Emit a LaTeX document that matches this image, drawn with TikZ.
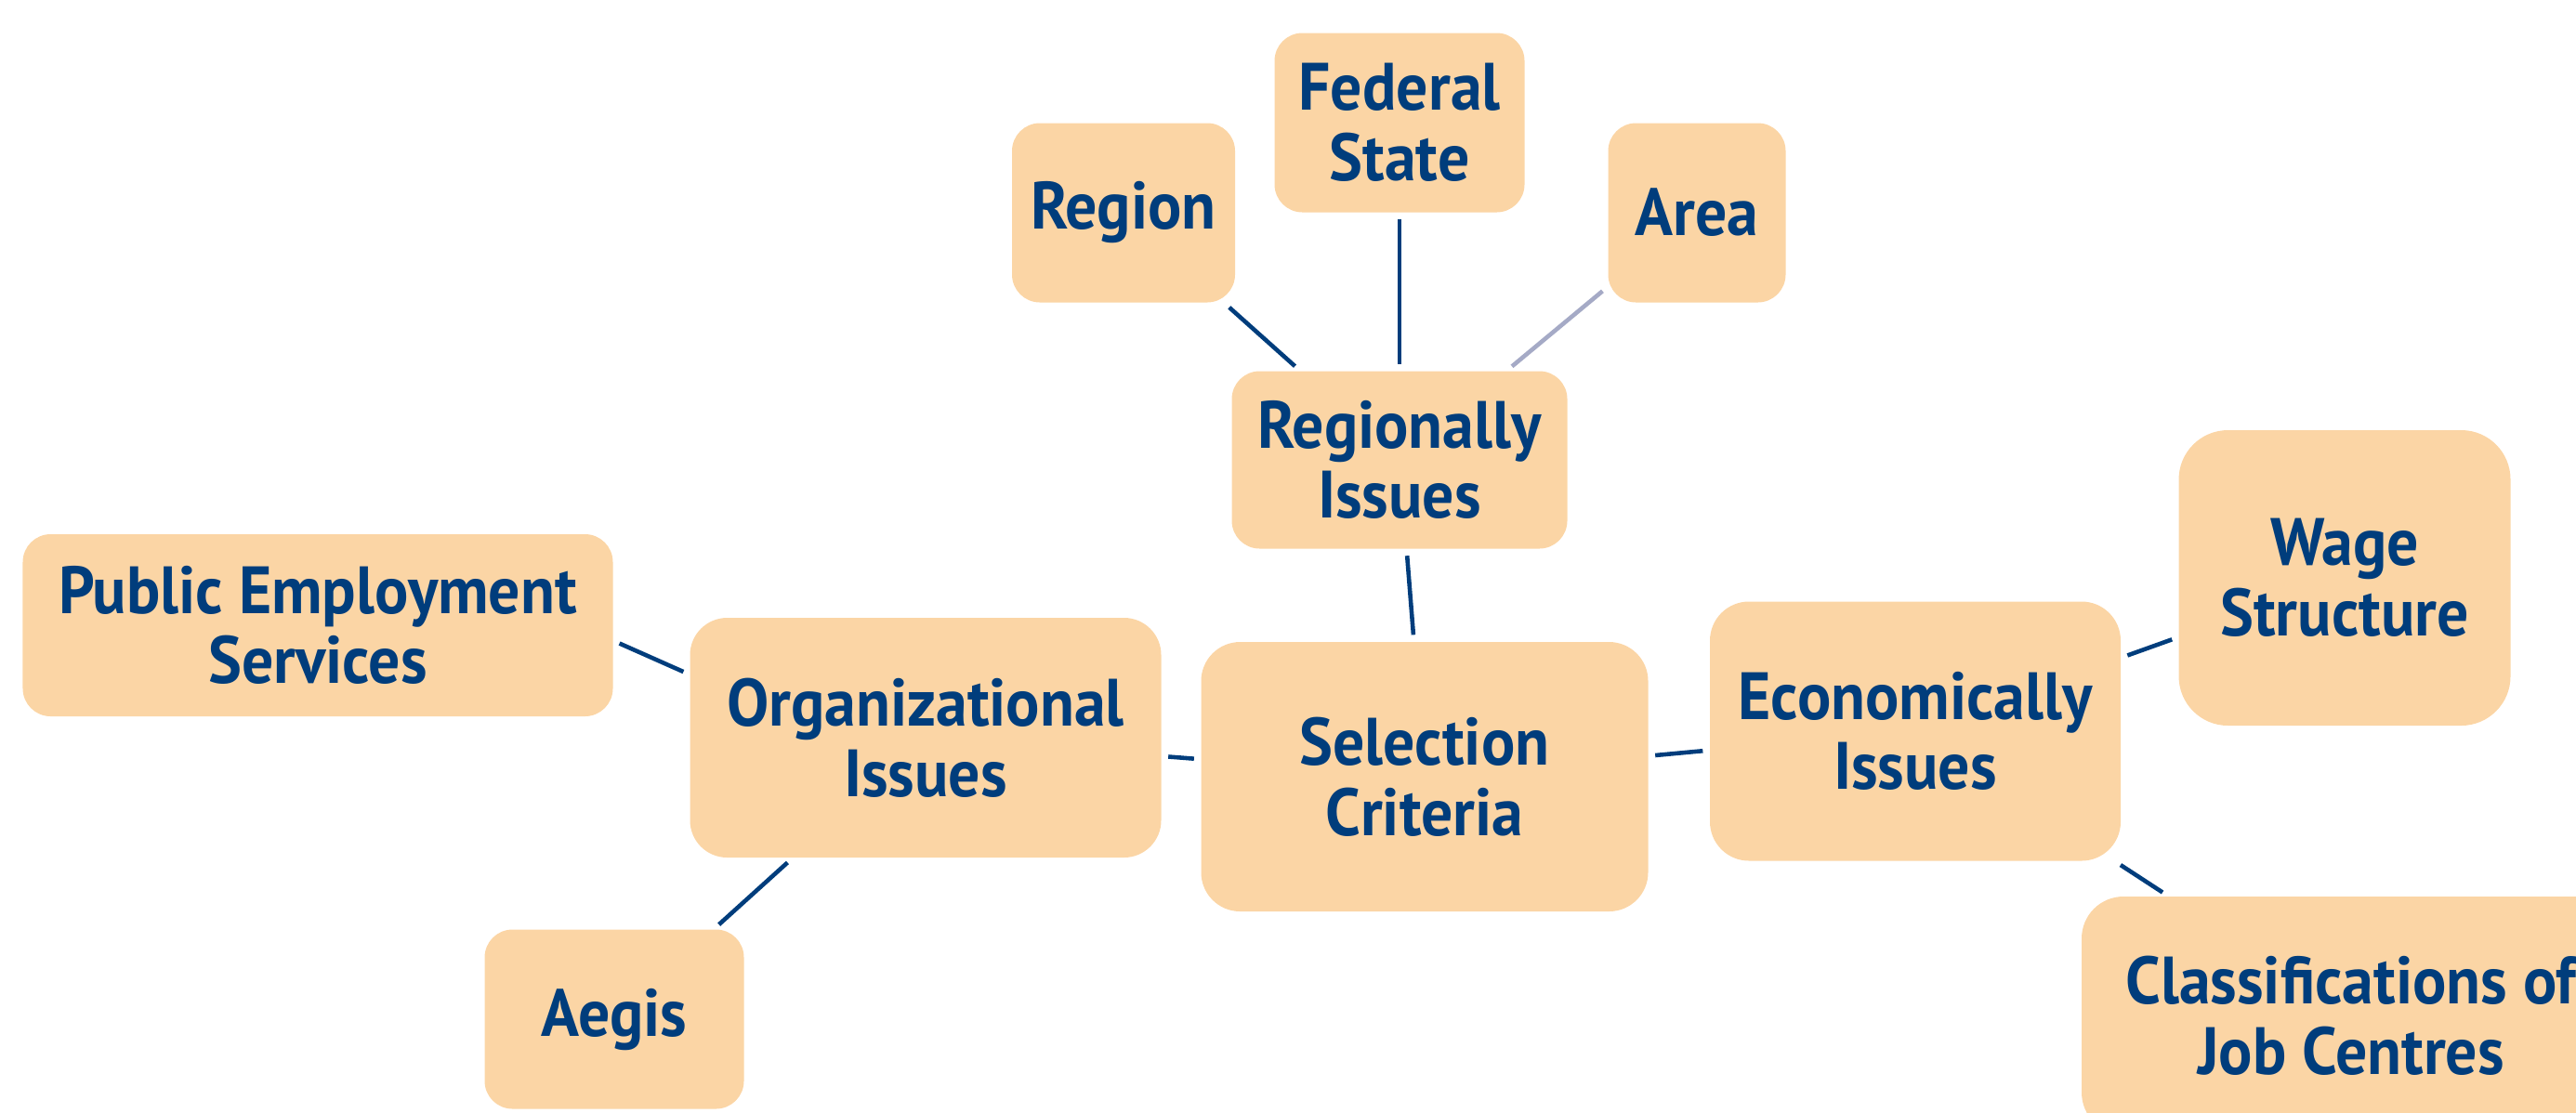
\documentclass[tikz,border=0pt]{standalone}
\usepackage{fontspec}
\setmainfont{PT Sans}[FakeStretch=0.94]
\usetikzlibrary{shapes}
\usetikzlibrary{calc}

\definecolor{boxfill}{HTML}{FBD5A5}
\definecolor{navy}{HTML}{003D7C}
\definecolor{paleline}{HTML}{A5AAC6}

\begin{document}
\begin{tikzpicture}
    \def\gap{0.07cm}
    \tikzstyle{topic}=[rectangle, rounded corners=0.3cm, fill=boxfill, text=navy, align=center, inner sep=0pt, font=\fontsize{20.5}{21.5}\selectfont\bfseries]
    \tikzstyle{link}=[draw=navy, line width=1.3pt, shorten <=\gap, shorten >=\gap]

    \useasboundingbox (0,0) rectangle (27.72,-11.97);
    \clip (0,0) rectangle (27.72,-11.97);

    % nodes
    \node (sel) [topic, minimum width=4.81cm, minimum height=2.90cm, rounded corners=0.42cm] at (15.33,-8.36) {Selection\\Criteria};
    \node (reg) [topic, minimum width=3.61cm, minimum height=1.91cm] at (15.06,-4.95) {Regionally\\Issues};
    \node (org) [topic, minimum width=5.07cm, minimum height=2.58cm, rounded corners=0.4cm] at (9.96,-7.94) {Organizational\\Issues};
    \node (eco) [topic, minimum width=4.42cm, minimum height=2.79cm, rounded corners=0.42cm] at (20.61,-7.87) {Economically\\Issues};

    \node (fed) [topic, minimum width=2.69cm, minimum height=1.93cm] at (15.06,-1.32) {Federal\\State};
    \node (region) [topic, minimum width=2.40cm, minimum height=1.93cm] at (12.09,-2.29) {Region};
    \node (area) [topic, minimum width=1.91cm, minimum height=1.93cm] at (18.26,-2.29) {Area};

    \node (pes) [topic, minimum width=6.35cm, minimum height=1.96cm] at (3.42,-6.73) {Public Employment\\Services};
    \node (aegis) [topic, minimum width=2.79cm, minimum height=1.93cm] at (6.61,-10.97) {Aegis};

    \node (wage) [topic, minimum width=3.57cm, minimum height=3.18cm, rounded corners=0.53cm] at (25.23,-6.22) {Wage\\Structure};
    \node (job) [topic, minimum width=5.80cm, minimum height=2.56cm, rounded corners=0.45cm] at (25.30,-10.93) {Classifications of\\Job Centres};

    % links
    \path[link] (region) -- (reg);
    \path[link] (fed) -- (reg);
    \path[link, draw=paleline] (area) -- (reg);
    \path[link] (reg) -- (sel);
    \path[link] (pes.-3) -- (org.165);
    \path[link] (org) -- (sel);
    \path[link] (org) -- (aegis);
    \path[link] (sel) -- (eco);
    \path[link] (eco) -- (wage);
    \path[link] (eco) -- (job);
\end{tikzpicture}
\end{document}
